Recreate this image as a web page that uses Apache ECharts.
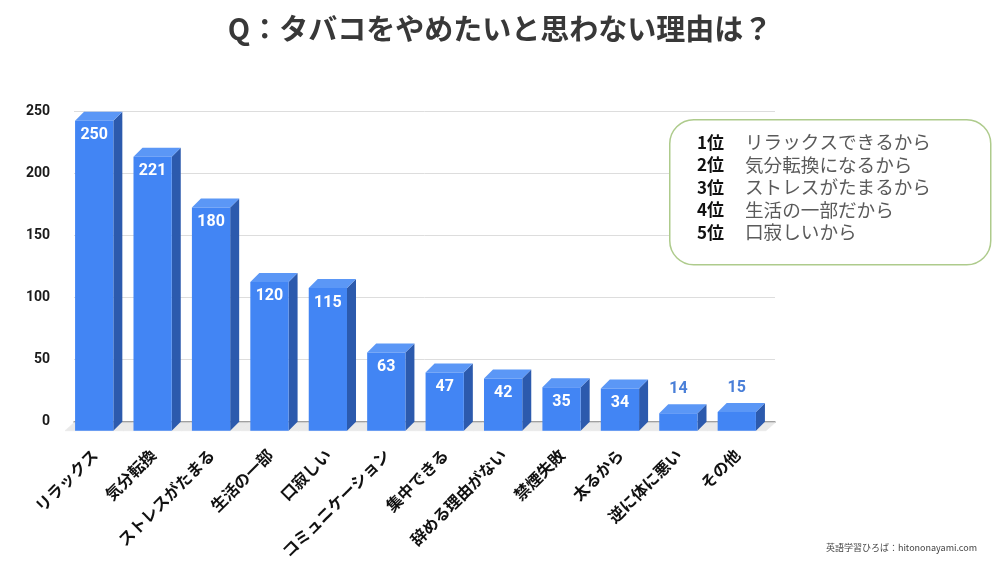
<!DOCTYPE html>
<html>
<head>
<meta charset="utf-8">
<script src="https://cdn.jsdelivr.net/npm/echarts@6/dist/echarts.min.js"></script>
<style>
html,body{margin:0;padding:0;background:#fff;}
#chart{width:1000px;height:563px;}
</style>
</head>
<body>
<div id="chart"></div>
<script>
const categories = ['リラックス','気分転換','ストレスがたまる','生活の一部','口寂しい','コミュニケーション','集中できる','辞める理由がない','禁煙失敗','太るから','逆に体に悪い','その他'];
const counts = [250,221,180,120,115,63,47,42,35,34,14,15];
const ranks = ['1位','2位','3位','4位','5位'];
const reasons = ['リラックスできるから','気分転換になるから','ストレスがたまるから','生活の一部だから','口寂しいから'];
const titleText = 'Q：タバコをやめたいと思わない理由は？';
const creditText = '英語学習ひろば：hitononayami.com';

const FONT = '"Noto Sans CJK JP", "Noto Sans", sans-serif';
const DEPTH = 9;
const FRONT = '#4285f4', TOP = '#5b97f6', SIDE = '#2c5aad';

function renderFloor(params, api) {
  const base = api.coord([api.value(0), 0]);
  const band = api.size([1, 0])[0];
  const l = base[0] - band / 2, r = base[0] + band / 2, y = base[1] + 1, d = DEPTH;
  return {
    type: 'polygon',
    shape: { points: [[l, y], [r, y], [r - d, y + d - 1], [l - d, y + d - 1]] },
    style: { fill: '#e9e9e9', stroke: '#e9e9e9', lineWidth: 0.6 }
  };
}

function renderBar(params, api) {
  const v = api.value(1);
  const c = api.coord([api.value(0), v]);
  const base = api.coord([api.value(0), 0]);
  const band = api.size([1, 0])[0];
  const d = DEPTH;
  const w = band * 0.655;
  const fx = c[0] - d - w / 2;
  const topY = c[1] + d, botY = base[1] + d;
  const inside = v >= 20;
  return {
    type: 'group',
    children: [
      { type: 'polygon', shape: { points: [[fx + w, topY], [fx + w + d, c[1]], [fx + w + d, base[1]], [fx + w, botY]] }, style: { fill: SIDE } },
      { type: 'polygon', shape: { points: [[fx, topY], [fx + d, c[1]], [fx + w + d, c[1]], [fx + w, topY]] }, style: { fill: TOP } },
      { type: 'rect', shape: { x: fx, y: topY, width: w, height: botY - topY }, style: { fill: FRONT } },
      { type: 'text', style: {
          text: String(v), x: fx + w / 2, y: inside ? topY + 14.5 : c[1] - 15,
          align: 'center', verticalAlign: 'middle',
          fill: inside ? '#ffffff' : '#4a7fd8',
          font: 'bold 16px Roboto, "Noto Sans", sans-serif'
        } }
    ]
  };
}

const chart = echarts.init(document.getElementById('chart'));
chart.setOption({
  backgroundColor: '#ffffff',
  animation: false,
  title: {
    text: titleText, left: 'center', top: 9,
    textStyle: { fontFamily: FONT, fontSize: 29, fontWeight: 'bold', color: '#383838' }
  },
  grid: { left: 74, right: 225, top: 111.7, bottom: 141.3, outerBoundsMode: 'none', containLabel: false },
  xAxis: {
    type: 'category', data: categories,
    axisTick: { show: false },
    axisLine: { show: true, lineStyle: { color: '#8c8c8c', width: 1.5 } },
    axisLabel: {
      interval: 0, rotate: 45, margin: 22, padding: [0, 12, 0, 0],
      fontFamily: FONT, fontSize: 16, fontWeight: 'bold', color: '#111111'
    }
  },
  yAxis: {
    type: 'value', min: 0, max: 250, interval: 50,
    axisLine: { show: false }, axisTick: { show: false },
    splitLine: { lineStyle: { color: '#dddddd', width: 1 } },
    axisLabel: { margin: 24, fontFamily: 'Roboto, "Noto Sans", sans-serif', fontSize: 14, fontWeight: 'bold', color: '#1a1a1a' }
  },
  series: [
    { type: 'custom', z: 1, renderItem: renderFloor, data: categories.map((c, i) => [i, 0]), silent: true },
    { type: 'custom', z: 3, renderItem: renderBar, data: counts.map((v, i) => [i, v]), encode: { x: 0, y: 1 } }
  ],
  graphic: [
    { type: 'rect', left: 669, top: 119, z: 10,
      shape: { width: 321, height: 145, r: 24 },
      style: { fill: '#ffffff', stroke: '#aecb8c', lineWidth: 1.5 } },
    { type: 'text', left: 697, top: 131, z: 11,
      style: { text: ranks.join('\n'), font: 'bold 17px ' + FONT, fill: '#111111', lineHeight: 22.5 } },
    { type: 'text', left: 745, top: 131, z: 11,
      style: { text: reasons.join('\n'), font: '18.6px ' + FONT, fill: '#5a5a5a', lineHeight: 22.5 } },
    { type: 'text', right: 23, top: 543, z: 11,
      style: { text: creditText, font: '9px ' + FONT, fill: '#444444' } }
  ]
});
</script>
</body>
</html>
